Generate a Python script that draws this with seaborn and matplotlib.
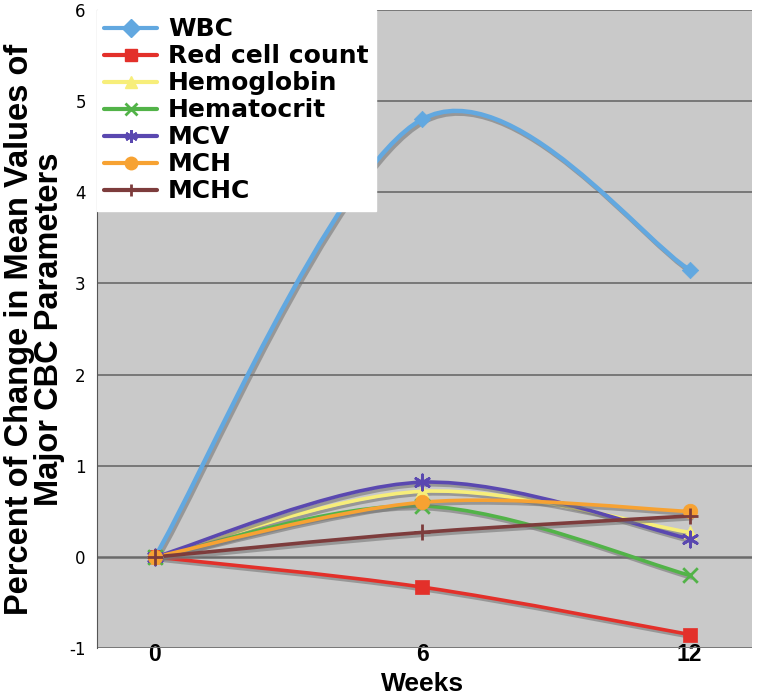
import numpy as np
import pandas as pd
import matplotlib
matplotlib.use('Agg')
import matplotlib.pyplot as plt
import matplotlib.patheffects as pe
from matplotlib.path import Path
from matplotlib.patches import PathPatch
from matplotlib.lines import Line2D
import seaborn as sns

weeks = [0, 6, 12]
wbc = [0.0, 4.8, 3.15]
red_cell = [0.0, -0.33, -0.85]
hemoglobin = [0.0, 0.72, 0.27]
hematocrit = [0.0, 0.56, -0.2]
mcv = [0.0, 0.82, 0.2]
mch = [0.0, 0.6, 0.5]
mchc = [0.0, 0.27, 0.45]

names = ['WBC', 'Red cell count', 'Hemoglobin', 'Hematocrit', 'MCV', 'MCH', 'MCHC']
series = [wbc, red_cell, hemoglobin, hematocrit, mcv, mch, mchc]
colors = ['#62a8e0', '#e3302a', '#f7ee7a', '#52b348', '#5a48b0', '#f7a232', '#7d3c3c']
markers = ['D', 's', '^', 'x', (6, 2, 0), 'o', '+']
msizes = [70, 110, 90, 110, 120, 110, 140]
yticks = [-1, 0, 1, 2, 3, 4, 5, 6]
xticks = [0, 6, 12]

df = pd.DataFrame({'week': weeks * len(names),
                   'param': np.repeat(names, len(weeks)),
                   'value': np.concatenate(series)})


def smooth_path(xs, ys):
    # excel style smoothed line through the points (cubic bezier segments)
    pts = np.column_stack([xs, ys]).astype(float)
    n = len(pts)
    verts = [pts[0]]
    codes = [Path.MOVETO]
    for i in range(n - 1):
        prev = pts[i - 1] if i > 0 else pts[i]
        nxt = pts[i + 2] if i + 2 < n else pts[i + 1]
        c1 = pts[i] + (pts[i + 1] - prev) / 6
        c2 = pts[i + 1] - (nxt - pts[i]) / 6
        verts += [c1, c2, pts[i + 1]]
        codes += [Path.CURVE4] * 3
    return Path(verts, codes)


sns.set_style('white')
plt.rcParams['font.family'] = ['Liberation Sans', 'DejaVu Sans']
plt.rcParams.update({'text.color': 'black', 'axes.labelcolor': 'black',
                     'xtick.color': 'black', 'ytick.color': 'black'})

fig = plt.figure(figsize=(7.69, 6.97), dpi=100)
ax = fig.add_axes([0.126, 0.07, 0.852, 0.916])
ax.set_facecolor('#c9c9c9')

for y in yticks:
    ax.axhline(y, color='#6a6a6a' if y == 0 else '#777777', lw=1.8 if y == 0 else 1.4, zorder=1)

shadow = [pe.SimpleLineShadow(offset=(1.5, -2), shadow_color='#777777', alpha=0.6), pe.Normal()]
for name, color, mk, ms in zip(names, colors, markers, msizes):
    sub = df[df['param'] == name]
    lw = 3.2 if name == 'WBC' else 2.6
    patch = PathPatch(smooth_path(sub['week'], sub['value']), fill=False, edgecolor=color,
                      lw=lw, zorder=3, capstyle='round', joinstyle='round')
    patch.set_path_effects(shadow)
    ax.add_patch(patch)
    if mk in ('x', '+', (6, 2, 0)):
        sns.scatterplot(data=sub, x='week', y='value', marker=mk, s=ms, color=color,
                        linewidth=2, ax=ax, zorder=4, legend=False)
    else:
        sns.scatterplot(data=sub, x='week', y='value', marker=mk, s=ms, color=color,
                        edgecolor=color, linewidth=0.5, ax=ax, zorder=4, legend=False)

ax.set_xlim(-1.3, 13.4)
ax.set_ylim(-1, 6)
ax.set_xticks(xticks)
ax.set_xticklabels([str(x) for x in xticks], fontsize=16.5, fontweight='bold')
ax.set_yticks(yticks)
ax.set_yticklabels([str(y) for y in yticks], fontsize=12, family='DejaVu Sans')
ax.tick_params(axis='y', length=5, width=1, color='#555555', direction='out', pad=3)
ax.tick_params(axis='x', length=0, pad=-3.5)
for s in ['top', 'right']:
    ax.spines[s].set_visible(False)
ax.spines['left'].set_color('#555555')
ax.spines['bottom'].set_visible(False)

ax.set_xlabel('')
fig.text(0.126 + 0.852 * (1.3 / 14.7 + 6 / 14.7), 1 / 697, 'Weeks', fontsize=19,
         fontweight='bold', ha='center', va='bottom')
ax.set_ylabel('Percent of Change in Mean Values of\nMajor CBC Parameters', fontsize=23.5,
              fontweight='bold', labelpad=3, linespacing=0.97)

handles = [Line2D([], [], color=c, lw=3, marker=m, markersize=9,
                  markeredgewidth=2 if m in ('x', '+', (6, 2, 0)) else 1, markeredgecolor=c)
           for c, m in zip(colors, markers)]
leg = ax.legend(handles, names, loc='upper left', bbox_to_anchor=(0, 1), borderaxespad=0,
                frameon=True, fancybox=False, framealpha=1, edgecolor='white',
                prop={'size': 18, 'weight': 'bold', 'family': 'DejaVu Sans'},
                handlelength=2.1, labelspacing=0.12, handletextpad=0.45, borderpad=0.3)
leg.set_zorder(5)

fig.savefig('out.png', dpi=100)
